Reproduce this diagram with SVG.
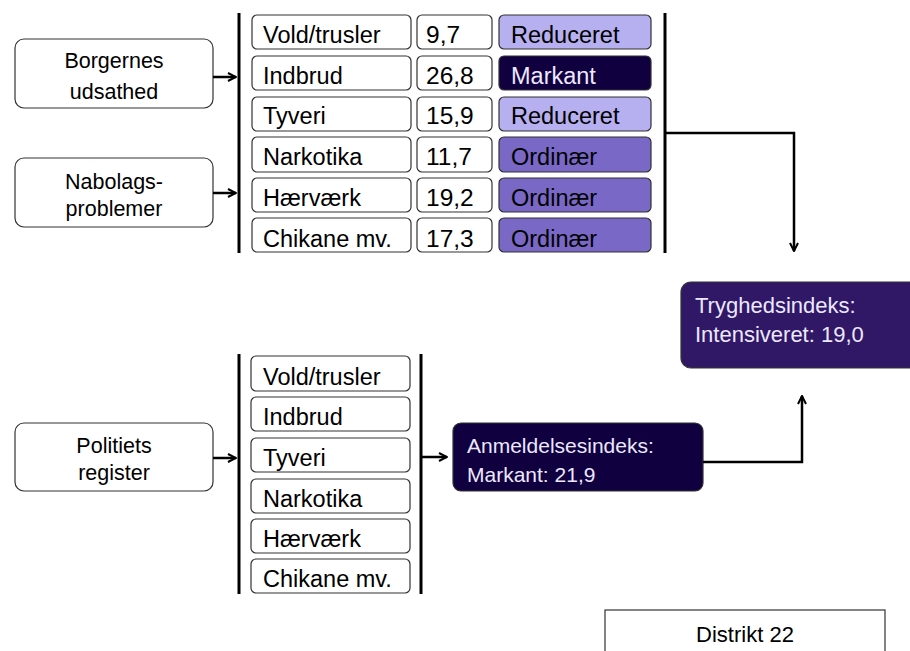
<svg xmlns="http://www.w3.org/2000/svg" width="910" height="651" viewBox="0 0 910 651">
<defs>
<marker id="ah" viewBox="0 0 10 10" refX="9" refY="5" markerWidth="10" markerHeight="10" markerUnits="userSpaceOnUse" orient="auto">
<path d="M1,1 L9,5 L1,9" fill="none" stroke="#000" stroke-width="2"/>
</marker>
<style>
text{font-family:"Liberation Sans",Arial,sans-serif;fill:#000}
.box{fill:#fff;stroke:#333;stroke-width:1.2}
.lbl{font-size:21.5px;text-anchor:middle}
.row{font-size:23.5px}
.num{font-size:24.5px}
.red{fill:#b6aff0;stroke:#333;stroke-width:1.2}
.ord{fill:#7a68c6;stroke:#333;stroke-width:1.2}
.mark{fill:#100040;stroke:#333;stroke-width:1.2}
.bar{stroke:#000;stroke-width:3;fill:none}
.con{stroke:#000;stroke-width:2.5;fill:none}
.wt{fill:#ece8ff}
</style>
</defs>

<g id="borgernes"><rect class="box" x="15" y="39" width="198" height="69" rx="9"/><text class="lbl" x="114" y="68">Borgernes</text><text class="lbl" x="114" y="99">udsathed</text></g>
<g id="nabolags"><rect class="box" x="15" y="158" width="198" height="69" rx="9"/><text class="lbl" x="114" y="189">Nabolags-</text><text class="lbl" x="114" y="216">problemer</text></g>
<g id="politiets"><rect class="box" x="15" y="423" width="198" height="68" rx="9"/><text class="lbl" x="114" y="453">Politiets</text><text class="lbl" x="114" y="480">register</text></g>

<g id="top-table">
<line class="bar" x1="239" y1="13" x2="239" y2="253"/>
<line class="bar" x1="665" y1="13" x2="665" y2="253"/>
<g id="t-vold"><rect class="box" x="252" y="15" width="159" height="34" rx="5"/><text class="row" x="263" y="43">Vold/trusler</text><rect class="box" x="417" y="15" width="75" height="34" rx="5"/><text class="num" x="426" y="43">9,7</text><rect class="red" x="499" y="15" width="152" height="34" rx="5"/><text class="row" x="511" y="43">Reduceret</text></g>
<g id="t-indbrud"><rect class="box" x="252" y="56" width="159" height="34" rx="5"/><text class="row" x="263" y="84">Indbrud</text><rect class="box" x="417" y="56" width="75" height="34" rx="5"/><text class="num" x="426" y="84">26,8</text><rect class="mark" x="499" y="56" width="152" height="34" rx="5"/><text class="row wt" x="511" y="84">Markant</text></g>
<g id="t-tyveri"><rect class="box" x="252" y="97" width="159" height="34" rx="5"/><text class="row" x="263" y="124">Tyveri</text><rect class="box" x="417" y="97" width="75" height="34" rx="5"/><text class="num" x="426" y="124">15,9</text><rect class="red" x="499" y="97" width="152" height="34" rx="5"/><text class="row" x="511" y="124">Reduceret</text></g>
<g id="t-narkotika"><rect class="box" x="252" y="137" width="159" height="35" rx="5"/><text class="row" x="263" y="165">Narkotika</text><rect class="box" x="417" y="137" width="75" height="35" rx="5"/><text class="num" x="426" y="165">11,7</text><rect class="ord" x="499" y="137" width="152" height="35" rx="5"/><text class="row" x="511" y="165">Ordinær</text></g>
<g id="t-haervaerk"><rect class="box" x="252" y="178" width="159" height="34" rx="5"/><text class="row" x="263" y="206">Hærværk</text><rect class="box" x="417" y="178" width="75" height="34" rx="5"/><text class="num" x="426" y="206">19,2</text><rect class="ord" x="499" y="178" width="152" height="34" rx="5"/><text class="row" x="511" y="206">Ordinær</text></g>
<g id="t-chikane"><rect class="box" x="252" y="218" width="159" height="34" rx="5"/><text class="row" x="263" y="247">Chikane mv.</text><rect class="box" x="417" y="218" width="75" height="34" rx="5"/><text class="num" x="426" y="247">17,3</text><rect class="ord" x="499" y="218" width="152" height="34" rx="5"/><text class="row" x="511" y="247">Ordinær</text></g>
</g>

<g id="bottom-table">
<line class="bar" x1="239" y1="354" x2="239" y2="594"/>
<line class="bar" x1="421" y1="354" x2="421" y2="594"/>
<g id="b-vold"><rect class="box" x="251" y="356" width="159" height="35" rx="5"/><text class="row" x="263" y="385">Vold/trusler</text></g>
<g id="b-indbrud"><rect class="box" x="251" y="397" width="159" height="34" rx="5"/><text class="row" x="263" y="425">Indbrud</text></g>
<g id="b-tyveri"><rect class="box" x="251" y="438" width="159" height="34" rx="5"/><text class="row" x="263" y="466">Tyveri</text></g>
<g id="b-narkotika"><rect class="box" x="251" y="479" width="159" height="34" rx="5"/><text class="row" x="263" y="507">Narkotika</text></g>
<g id="b-haervaerk"><rect class="box" x="251" y="519" width="159" height="34" rx="5"/><text class="row" x="263" y="547">Hærværk</text></g>
<g id="b-chikane"><rect class="box" x="251" y="559" width="159" height="34" rx="5"/><text class="row" x="263" y="587">Chikane mv.</text></g>
</g>

<g id="tryghedsindeks"><rect x="681" y="282" width="240" height="86" rx="10" fill="#301866" stroke="#333" stroke-width="1.2"/><text class="wt" x="695" y="313" font-size="22">Tryghedsindeks:</text><text class="wt" x="695" y="342" font-size="22">Intensiveret: 19,0</text></g>
<g id="anmeldelsesindeks"><rect x="453" y="423" width="250" height="68" rx="8" fill="#100040" stroke="#333" stroke-width="1.2"/><text class="wt" x="467" y="453" font-size="21">Anmeldelsesindeks:</text><text class="wt" x="467" y="482" font-size="21">Markant: 21,9</text></g>
<g id="distrikt"><rect x="605" y="610" width="280" height="50" fill="#fff" stroke="#333" stroke-width="1.2"/><text x="745" y="642" font-size="22" text-anchor="middle">Distrikt 22</text></g>

<g id="connectors">
<line class="con" x1="213" y1="77" x2="236" y2="77" marker-end="url(#ah)"/>
<line class="con" x1="213" y1="193" x2="236" y2="193" marker-end="url(#ah)"/>
<line class="con" x1="213" y1="458" x2="236" y2="458" marker-end="url(#ah)"/>
<line class="con" x1="422" y1="457" x2="447" y2="457" marker-end="url(#ah)"/>
<polyline class="con" points="666,133 794,133 794,251" marker-end="url(#ah)"/>
<polyline class="con" points="703,462 802,462 802,396" marker-end="url(#ah)"/>
</g>
</svg>
